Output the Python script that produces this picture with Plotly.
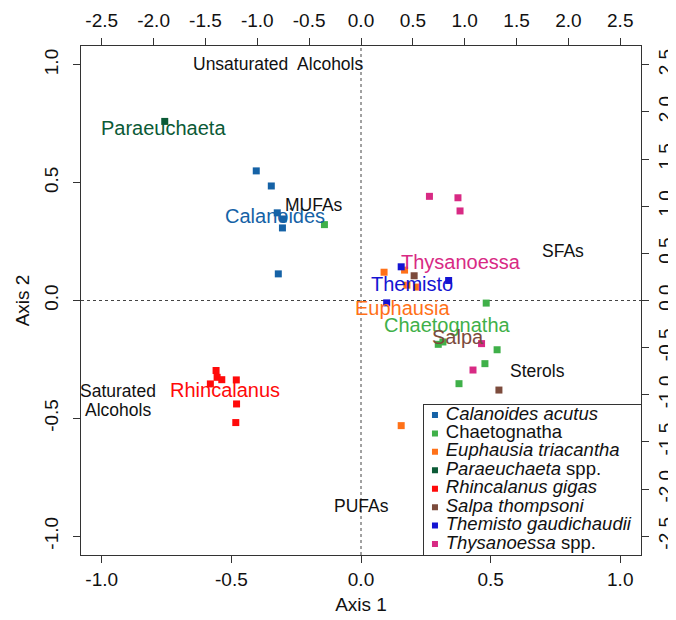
import plotly.graph_objects as go

# ---------------- data ----------------
species = ["Calanoides acutus", "Chaetognatha", "Euphausia triacantha", "Paraeuchaeta spp.",
           "Rhincalanus gigas", "Salpa thompsoni", "Themisto gaudichaudii", "Thysanoessa spp."]
legend_text = ["<i>Calanoides acutus</i>", "Chaetognatha", "<i>Euphausia triacantha</i>",
               "<i>Paraeuchaeta</i> spp.", "<i>Rhincalanus gigas</i>", "<i>Salpa thompsoni</i>",
               "<i>Themisto gaudichaudii</i>", "<i>Thysanoessa</i> spp."]
colors = ["#1562a6", "#3fb049", "#ff7118", "#0b5a36", "#ff0a0a", "#7c4b3c", "#1414d2", "#d82a84"]

calanoides_x = [-0.404, -0.346, -0.323, -0.300, -0.303, -0.319]
calanoides_y = [0.550, 0.486, 0.372, 0.346, 0.308, 0.113]
chaetognatha_x = [-0.141, 0.483, 0.298, 0.316, 0.525, 0.478, 0.378]
chaetognatha_y = [0.322, -0.011, -0.186, -0.176, -0.209, -0.268, -0.353]
euphausia_x = [0.089, 0.168, 0.177, 0.214, 0.155]
euphausia_y = [0.120, 0.129, 0.065, 0.057, -0.531]
paraeuchaeta_x = [-0.757]
paraeuchaeta_y = [0.760]
rhincalanus_x = [-0.559, -0.555, -0.537, -0.581, -0.481, -0.480, -0.483]
rhincalanus_y = [-0.297, -0.326, -0.336, -0.354, -0.337, -0.439, -0.518]
salpa_x = [0.205, 0.532]
salpa_y = [0.105, -0.380]
themisto_x = [0.155, 0.338, 0.099]
themisto_y = [0.143, 0.085, -0.010]
thysanoessa_x = [0.264, 0.374, 0.382, 0.465, 0.432]
thysanoessa_y = [0.442, 0.436, 0.380, -0.183, -0.295]

series_x = [calanoides_x, chaetognatha_x, euphausia_x, paraeuchaeta_x,
            rhincalanus_x, salpa_x, themisto_x, thysanoessa_x]
series_y = [calanoides_y, chaetognatha_y, euphausia_y, paraeuchaeta_y,
            rhincalanus_y, salpa_y, themisto_y, thysanoessa_y]

# group labels (text, x, y, colour index)
group_labels = [("Paraeuchaeta", -0.762, 0.731, 3), ("Calanoides", -0.332, 0.359, 0),
                ("Thysanoessa", 0.387, 0.165, 7), ("Themisto", 0.198, 0.069, 6),
                ("Euphausia", 0.161, -0.030, 2), ("Chaetognatha", 0.333, -0.103, 1),
                ("Salpa", 0.376, -0.153, 5), ("Rhincalanus", -0.525, -0.378, 4)]
# variable labels
var_labels = [("Unsaturated\u00a0 Alcohols", -0.322, 1.003), ("MUFAs", -0.181, 0.405),
              ("SFAs", 0.780, 0.211), ("Sterols", 0.680, -0.301),
              ("Saturated", -0.938, -0.386), ("Alcohols", -0.936, -0.463),
              ("PUFAs", 0.0, -0.870)]

bottom_ticks = [-1.0, -0.5, 0.0, 0.5, 1.0]
top_ticks = [-2.5, -2.0, -1.5, -1.0, -0.5, 0.0, 0.5, 1.0, 1.5, 2.0, 2.5]

FONT = "Liberation Sans, Arial, Helvetica, sans-serif"

fig = go.Figure()
for name, xs, ys, c in zip(species, series_x, series_y, colors):
    fig.add_trace(go.Scatter(x=xs, y=ys, mode="markers", name=name,
                             marker=dict(symbol="square", size=7, color=c, line=dict(width=0)),
                             showlegend=False))

# dummy trace for secondary axes
fig.add_trace(go.Scatter(x=[None], y=[None], xaxis="x2", yaxis="y2", showlegend=False, hoverinfo="skip"))

# custom legend on auxiliary axes
rows = list(range(len(species)))
fig.add_trace(go.Scatter(x=[10.7] * len(rows), y=rows, mode="markers", xaxis="x3", yaxis="y3",
                         marker=dict(symbol="square", size=6, color=colors, line=dict(width=0)),
                         showlegend=False, hoverinfo="skip"))
fig.add_trace(go.Scatter(x=[21.5] * len(rows), y=rows, mode="text", xaxis="x3", yaxis="y3",
                         text=legend_text, textposition="middle right",
                         textfont=dict(size=18.5, color="#111", family=FONT),
                         showlegend=False, hoverinfo="skip"))

annotations = []
for t, x, y, ci in group_labels:
    annotations.append(dict(text=t, x=x, y=y, xref="x", yref="y", showarrow=False,
                            font=dict(size=20, color=colors[ci], family=FONT)))
for t, x, y in var_labels:
    annotations.append(dict(text=t, x=x, y=y, xref="x", yref="y", showarrow=False,
                            font=dict(size=17.5, color="#111", family=FONT)))

axcommon = dict(showgrid=False, zeroline=False, ticks="outside", ticklen=7, tickwidth=1,
                automargin=False,
                tickcolor="#333", tickfont=dict(size=19, color="#111", family=FONT))

fig.update_layout(
    width=668, height=612,
    margin=dict(l=73, r=35, t=38, b=65),
    paper_bgcolor="white", plot_bgcolor="white",
    showlegend=False,
    font=dict(family=FONT, color="#111"),
    xaxis=dict(range=[-1.08, 1.08], tickvals=bottom_ticks, ticktext=[f"{v:.1f}" for v in bottom_ticks],
               showline=True, mirror=True, linecolor="#333", linewidth=1.3,
               title=dict(text="Axis 1", font=dict(size=19, family=FONT), standoff=8), **axcommon),
    yaxis=dict(range=[-1.08, 1.08], tickvals=bottom_ticks, ticktext=[f"{v:.1f}" for v in bottom_ticks],
               showline=True, mirror=True, linecolor="#333", linewidth=1.3, tickangle=-90,
               ticklabelstandoff=7,
               title=dict(text="Axis 2", font=dict(size=19, family=FONT), standoff=6), **axcommon),
    xaxis2=dict(range=[-2.7, 2.7], overlaying="x", side="top", anchor="y", ticklabelstandoff=3,
                tickvals=top_ticks, ticktext=[f"{v:.1f}" for v in top_ticks], showline=False, **axcommon),
    yaxis2=dict(range=[-2.7, 2.7], overlaying="y", side="right", anchor="x", tickangle=-90,
                tickvals=top_ticks, ticktext=[f"{v:.1f}" for v in top_ticks], showline=False, **axcommon),
    xaxis3=dict(domain=[0.613, 1.0], anchor="y3", range=[0, 216.7], showgrid=False, zeroline=False,
                automargin=False,
                showticklabels=False, ticks="", showline=True, mirror=True, linecolor="#333", linewidth=1.2),
    yaxis3=dict(domain=[0.0, 0.2947], anchor="x3", range=[7.596, -0.543], showgrid=False, zeroline=False,
                automargin=False,
                showticklabels=False, ticks="", showline=True, mirror=True, linecolor="#333", linewidth=1.2),
    shapes=[
        dict(type="line", xref="x", yref="paper", x0=0, x1=0, y0=0, y1=1,
             line=dict(color="#444", width=1, dash="dot"), layer="below"),
        dict(type="line", xref="paper", yref="y", x0=0, x1=1, y0=0, y1=0,
             line=dict(color="#444", width=1, dash="dot"), layer="below"),
    ],
    annotations=annotations,
)

fig.write_html("out.html")
